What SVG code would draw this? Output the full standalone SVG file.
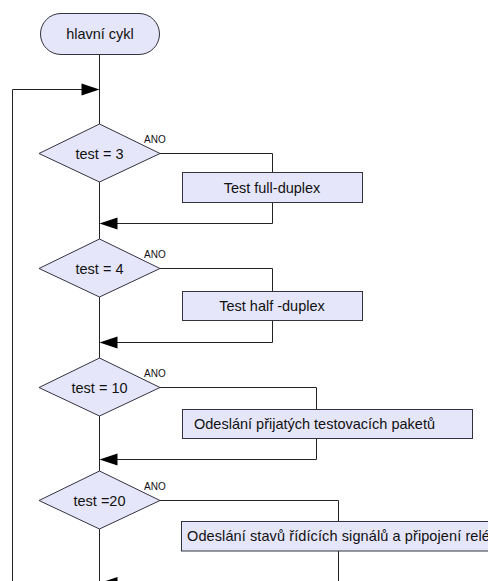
<svg xmlns="http://www.w3.org/2000/svg" width="488" height="581" viewBox="0 0 488 581">
<style>
.shape{fill:#e6e6fa;stroke:#333340;stroke-width:1}
.line{fill:none;stroke:#222;stroke-width:1}
.arr{fill:#000;stroke:none}
.t{font-family:"Liberation Sans",Arial,sans-serif;font-size:14.5px;fill:#111}
.ano{font-family:"Liberation Sans",Arial,sans-serif;font-size:10px;fill:#111}
</style>
<rect width="488" height="581" fill="#fff"/>
<g id="connectors">
<polyline class="line" points="99.5,54 99.5,124"/>
<polyline class="line" points="99.5,182 99.5,239"/>
<polyline class="line" points="99.5,297 99.5,358"/>
<polyline class="line" points="99.5,416 99.5,471"/>
<polyline class="line" points="99.5,529 99.5,581"/>
<polyline class="line" points="12.5,581 12.5,89.5 90,89.5"/>
<polygon class="arr" points="99.5,89.5 81.5,83.5 81.5,95.5"/>
<polyline class="line" points="160,153.5 272.5,153.5 272.5,172.5"/>
<polyline class="line" points="272.5,202.5 272.5,223.5 110,223.5"/>
<polygon class="arr" points="99.5,223.5 117.5,217.5 117.5,229.5"/>
<polyline class="line" points="160,268.5 272.5,268.5 272.5,291.5"/>
<polyline class="line" points="272.5,320.5 272.5,342.5 110,342.5"/>
<polygon class="arr" points="99.5,342.5 117.5,336.5 117.5,348.5"/>
<polyline class="line" points="160,387.5 316.5,387.5 316.5,409.5"/>
<polyline class="line" points="316.5,438.5 316.5,459.5 110,459.5"/>
<polygon class="arr" points="99.5,459.5 117.5,453.5 117.5,465.5"/>
<polyline class="line" points="160,500.5 338.5,500.5 338.5,521.5"/>
<polyline class="line" points="338.5,551 338.5,590"/>
<polygon class="arr" points="99.5,583 117.5,577 117.5,589"/>
</g>
<g id="start">
<rect class="shape" x="40.5" y="13.5" width="119" height="41" rx="20.5"/>
<text class="t" x="100" y="38.5" text-anchor="middle">hlavní cykl</text>
</g>
<g id="d1">
<polygon class="shape" points="99.5,124 160,153.5 99.5,182 39,153.5"/>
<text class="t" x="99.5" y="158.5" text-anchor="middle">test = 3</text>
<text class="ano" x="144" y="142.5">ANO</text>
</g>
<g id="b1">
<rect class="shape" x="182.5" y="172.5" width="180" height="30"/>
<text class="t" x="272" y="192.5" text-anchor="middle">Test full-duplex</text>
</g>
<g id="d2">
<polygon class="shape" points="99.5,239 160,268.5 99.5,297 39,268.5"/>
<text class="t" x="99.5" y="273.5" text-anchor="middle">test = 4</text>
<text class="ano" x="144" y="257.5">ANO</text>
</g>
<g id="b2">
<rect class="shape" x="182.5" y="291.5" width="180" height="29"/>
<text class="t" x="272" y="311" text-anchor="middle">Test half -duplex</text>
</g>
<g id="d3">
<polygon class="shape" points="99.5,358 160,387.5 99.5,416 39,387.5"/>
<text class="t" x="99.5" y="392.5" text-anchor="middle">test = 10</text>
<text class="ano" x="144" y="376.5">ANO</text>
</g>
<g id="b3">
<rect class="shape" x="182.5" y="409.5" width="290" height="29"/>
<text class="t" x="194" y="429">Odeslání přijatých testovacích paketů</text>
</g>
<g id="d4">
<polygon class="shape" points="99.5,471 160,500.5 99.5,529 39,500.5"/>
<text class="t" x="99.5" y="505.5" text-anchor="middle">test =20</text>
<text class="ano" x="144" y="489.5">ANO</text>
</g>
<g id="b4">
<rect class="shape" x="181.5" y="521.5" width="330" height="29.5"/>
<text class="t" x="187" y="541" letter-spacing="0.1">Odeslání stavů řídících signálů a připojení relé</text>
</g>
</svg>
